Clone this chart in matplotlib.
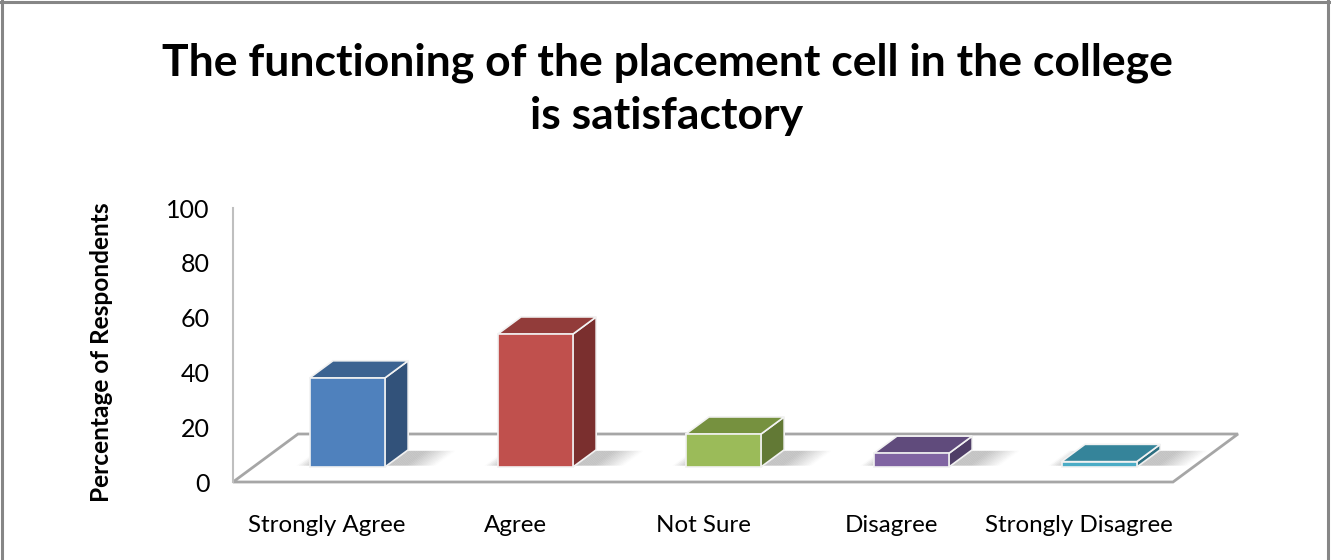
import matplotlib
matplotlib.use("Agg")
import matplotlib.pyplot as plt
from matplotlib.patches import Polygon
from matplotlib.lines import Line2D
import numpy as np

# ---- data ----
categories = ["Strongly Agree", "Agree", "Not Sure", "Disagree", "Strongly Disagree"]
values = [32.5, 48.5, 12, 5, 2]
yticks = [0, 20, 40, 60, 80, 100]
title = "The functioning of the placement cell in the college\nis satisfactory"
ylabel = "Percentage of Respondents"

front_colors = ["#4F81BD", "#C0504D", "#9BBB59", "#8064A2", "#4BACC6"]
top_colors = ["#3C6391", "#923C3A", "#76913F", "#604B7C", "#35849A"]
side_colors = ["#32527A", "#7A2F2E", "#627935", "#4F3E67", "#2C6E80"]

plt.rcParams['font.family'] = ['Lato', 'DejaVu Sans']

W, H = 1331, 560
fig = plt.figure(figsize=(W / 100, H / 100), dpi=100)
ax = fig.add_axes([233 / W, (H - 482) / H, 940 / W, 274 / H])
ax.set_xlim(-0.5, len(categories) - 0.5)
ax.set_ylim(0, 100)
ax.set_facecolor("none")

# depth direction (pixels for full floor depth)
DX, DY = 65.0, 48.0
fig.canvas.draw()


def proj(x, y, d):
    p = ax.transData.transform((x, y)) + d * np.array([DX, DY])
    return ax.transData.inverted().transform(p)


# floor
floor = [proj(-0.5, 0, 0), proj(4.5, 0, 0), proj(4.5, 0, 1), proj(-0.5, 0, 1)]
ax.add_patch(Polygon(floor, closed=True, facecolor="white", edgecolor="#A6A6A6",
                     linewidth=2, zorder=1, clip_on=False))

bw = 0.40
d0, d1 = 0.31, 0.67
for i, v in enumerate(values):
    xl, xr = i - bw / 2, i + bw / 2
    # soft shadow on the floor
    xs, xe = xl - 0.08, xr + 0.26
    n = 60
    edges = np.linspace(xs, xe, n + 1)
    for a0, a1 in zip(edges[:-1], edges[1:]):
        xm = 0.5 * (a0 + a1)
        fin = min(1.0, (xm - xs) / 0.08)
        fout = min(1.0, max(0.0, (xe - xm) / 0.16))
        alpha = 0.42 * fin * fout
        if alpha <= 0:
            continue
        sh = [proj(a0, 0, d0 + 0.03), proj(a1, 0, d0 + 0.03),
              proj(a1, 0, d1 - 0.02), proj(a0, 0, d1 - 0.02)]
        ax.add_patch(Polygon(sh, closed=True, facecolor="#707070", edgecolor="none",
                             alpha=alpha, zorder=2, clip_on=False))
    front = [proj(xl, 0, d0), proj(xr, 0, d0), proj(xr, v, d0), proj(xl, v, d0)]
    side = [proj(xr, 0, d0), proj(xr, 0, d1), proj(xr, v, d1), proj(xr, v, d0)]
    top = [proj(xl, v, d0), proj(xr, v, d0), proj(xr, v, d1), proj(xl, v, d1)]
    ax.add_patch(Polygon(side, closed=True, facecolor=side_colors[i], edgecolor="#F2F2F2",
                         linewidth=1.2, zorder=3, clip_on=False))
    ax.add_patch(Polygon(top, closed=True, facecolor=top_colors[i], edgecolor="#F2F2F2",
                         linewidth=1.2, zorder=3, clip_on=False))
    ax.add_patch(Polygon(front, closed=True, facecolor=front_colors[i], edgecolor="#F2F2F2",
                         linewidth=1.2, zorder=4, clip_on=False))

# axes styling
for s in ["top", "right", "bottom"]:
    ax.spines[s].set_visible(False)
ax.spines["left"].set_color("#BFBFBF")
ax.spines["left"].set_linewidth(1.5)
ax.set_yticks(yticks)
ax.set_yticklabels([str(t) for t in yticks], fontsize=18)
ax.set_xticks(range(len(categories)))
ax.set_xticklabels(categories, fontsize=17.4)
ax.tick_params(axis="y", length=0, pad=17)
ax.tick_params(axis="x", length=0, pad=24)
ax.set_ylabel(ylabel, fontsize=17.6, fontweight="bold")
ax.yaxis.set_label_coords(-0.128, 0.474)

fig.text(667 / W, 1 - 89 / H, title, ha="center", va="center", fontsize=32,
         fontweight="bold", linespacing=1.4)

# chart border
bc = "#868686"
fig.add_artist(Line2D([1.5 / W, 1.5 / W], [0, 1], color=bc, lw=2.2, transform=fig.transFigure))
fig.add_artist(Line2D([0, 1], [1 - 1.5 / H, 1 - 1.5 / H], color=bc, lw=2.2, transform=fig.transFigure))
fig.add_artist(Line2D([1 - 3 / W, 1 - 3 / W], [0, 1], color=bc, lw=2.2, transform=fig.transFigure))

fig.savefig("out.png", dpi=100)
